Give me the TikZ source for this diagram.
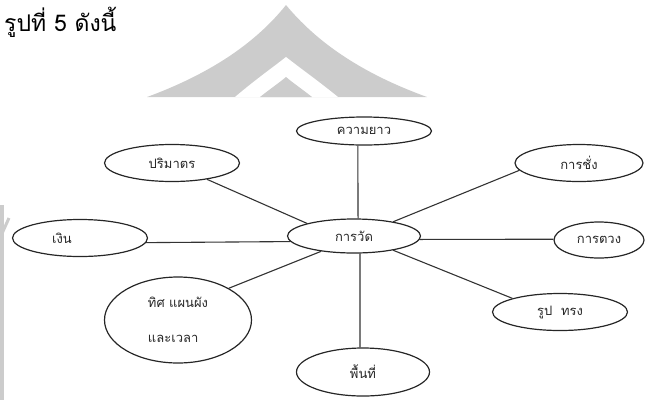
\documentclass[tikz,border=0pt]{standalone}
\usepackage{fontspec}
\newfontfamily\thaifont[Script=Thai]{Loma}
\usetikzlibrary{shapes.geometric}
\begin{document}
\begin{tikzpicture}[x=1pt,y=-1pt,
  ell/.style={ellipse, draw=black!85, line width=1.2pt, inner sep=0pt,
    font=\thaifont\fontsize{13}{15}\selectfont, text=black!85},
  conn/.style={draw=black!80, line width=1.1pt},
  wm/.style={fill=black!20, draw=none}]
\useasboundingbox (0,0) rectangle (645,400);
% watermark
\fill[wm] (147,97) .. controls (215,72) and (258,40) .. (286,5)
  .. controls (315,40) and (358,72) .. (427,97) -- cycle;
\fill[white] (235,97) .. controls (255,80) and (272,68) .. (286,57)
  .. controls (300,68) and (317,80) .. (338,97) -- cycle;
\fill[wm] (260,97) .. controls (270,89) and (279,83) .. (286,77)
  .. controls (293,83) and (302,89) .. (312,97) -- cycle;
\fill[wm] (0,205) rectangle (4,400);
\draw[black!20, line width=3pt] (0,238) -- (9,218);
% heading
\node[anchor=base west, inner sep=0pt, font=\thaifont\fontsize{23}{27}\selectfont]
  (head) at (4,31) {รูปที่ 5 ดังนี้};
% nodes
\node[ell, minimum width=133pt, minimum height=34pt] (c) at (354,236) {การวัด};
\node[ell, minimum width=135pt, minimum height=28pt] (len) at (364,131) {ความยาว};
\node[ell, minimum width=135pt, minimum height=37pt] (vol) at (172,163) {ปริมาตร};
\node[ell, minimum width=128pt, minimum height=37pt] (wgt) at (579,163) {การชั่ง};
\node[ell, minimum width=90pt, minimum height=36pt] (cup) at (599,240) {การตวง};
\node[ell, minimum width=135pt, minimum height=37pt,
  label={[font=\thaifont\fontsize{13}{15}\selectfont, text=black!85, xshift=-18pt]center:เงิน}]
  (money) at (80,238) {};
\node[ell, minimum width=147pt, minimum height=86pt, align=left] (dir) at (178,320)
  {ทิศ แผนผัง\\[20pt]และเวลา};
\node[ell, minimum width=135pt, minimum height=37pt] (shp) at (560,312) {รูป\ \ ทรง};
\node[ell, minimum width=133pt, minimum height=48pt] (area) at (363,372) {พื้นที่};
% connectors
\draw[conn] (len.247) -- (c.77);
\draw[conn] (vol.335) -- (c.165);
\draw[conn] (money.356.5) -- (c.185.5);
\draw[conn] (c.357.4) -- (cup.179);
\draw[conn] (wgt.187) -- (c.20);
\draw[conn] (dir.32) -- (c.205);
\draw[conn] (c.289.5) -- (area.97);
\draw[conn] (c.340) -- (shp.164);
\end{tikzpicture}
\end{document}
